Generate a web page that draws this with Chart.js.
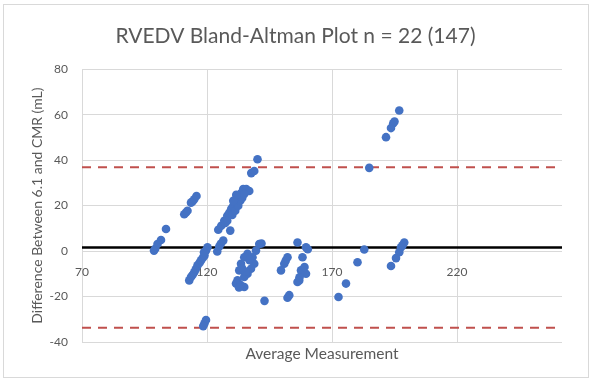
<!DOCTYPE html>
<html>
<head>
<meta charset="utf-8">
<script src="https://cdn.jsdelivr.net/npm/chart.js@4/dist/chart.umd.min.js"></script>
<style>
  html, body { margin: 0; padding: 0; background: #fff; }
  #wrap { width: 592px; height: 381px; position: relative; }
</style>
</head>
<body>
<div id="wrap"><canvas id="c" width="592" height="381"></canvas></div>
<script>
const chartTitle = "RVEDV Bland-Altman Plot n = 22 (147)";
const xTitle = "Average Measurement";
const yTitle = "Difference Between 6.1 and CMR (mL)";

const xTicks = [70, 120, 170, 220];
const yTicks = [-40, -20, 0, 20, 40, 60, 80];

const avgMeasurement = [
  99.3, 100.2, 101.6, 103.6, 98.8,
  110.9, 111.6, 112.2, 113.6, 114.2, 114.9, 115.8,
  112.9, 113.6, 114.2, 114.9, 115.5, 116.2, 117.0, 117.6, 118.3, 119.0, 119.6, 120.2, 118.8,
  119.0, 119.6, 118.5,
  124.1, 124.9, 125.5, 126.5,
  124.5, 125.7, 126.9, 128.1, 128.9, 129.7, 130.5, 131.3, 132.1, 132.9, 133.7, 134.5, 135.7, 136.9,
  137.7, 138.9, 140.2, 129.3, 127.3, 128.1, 130.1, 131.3, 132.5, 133.3, 134.1, 134.9, 131.7, 130.5,
  140.9, 139.6, 138.2, 136.2, 134.9, 138.9, 133.6, 137.6, 136.2, 132.9, 134.9, 132.2, 131.6, 134.9,
  143.0, 133.5, 135.5, 137.0, 134.0, 132.8, 141.8,
  156.2, 159.6, 158.2, 152.2, 150.9, 149.6, 157.6, 159.6, 156.9, 156.2, 152.9, 152.2, 159.0, 151.5,
  157.0, 160.3,
  180.2, 175.6, 172.6, 182.9, 184.9,
  196.9, 194.5, 193.6, 191.6, 195.0, 198.9, 197.6, 196.9, 195.6, 193.6, 198.2
];
const difference = [
  1.0, 3.1, 4.9, 9.7, 0.2,
  16.2, 17.0, 17.7, 21.3, 21.8, 22.8, 24.2,
  -12.9, -11.4, -10.5, -9.3, -8.0, -6.3, -5.2, -4.1, -3.0, -2.0, 0.2, 1.7, -0.5,
  -31.8, -30.3, -33.0,
  -0.2, 2.0, 3.2, 4.6,
  9.4, 11.1, 13.3, 15.5, 16.8, 18.6, 19.9, 21.2, 22.9, 24.2, 25.5, 27.3, 27.3, 26.4,
  34.3, 35.2, 40.4, 9.0, 12.4, 13.3, 15.9, 17.7, 19.9, 22.1, 23.4, 25.1, 24.7, 22.1,
  3.1, 0.2, -2.7, -1.2, -2.7, -5.6, -5.6, -7.8, -10.0, -8.5, -11.4, -12.9, -14.3, -15.8,
  -21.9, -15.0, -9.0, -4.0, -7.5, -16.0, 3.3,
  3.8, 1.7, -2.7, -2.7, -5.6, -8.5, -8.5, -10.0, -12.9, -13.6, -19.4, -20.5, -7.0, -4.2,
  -11.5, 0.8,
  -4.9, -14.3, -20.2, 0.7, 36.6,
  61.8, 56.2, 54.1, 50.1, 57.0, 3.8, 1.7, -0.5, -3.1, -6.6, 2.5
];

const meanDiff = [1.6];
const upperLoA = [36.9];
const lowerLoA = [-33.7];
const xRange = [70, 262];
const yRange = [-40, 80];

const points = avgMeasurement.map((x, i) => ({ x: x, y: difference[i] }));
const hLine = v => xRange.map(x => ({ x: x, y: v }));

const frame = {
  id: 'frame',
  beforeDraw(chart) {
    const ctx = chart.ctx;
    ctx.save();
    ctx.fillStyle = '#fff';
    ctx.fillRect(0, 0, chart.width, chart.height);
    ctx.strokeStyle = '#d9d9d9';
    ctx.lineWidth = 1;
    ctx.strokeRect(3.5, 4.5, chart.width - 7, chart.height - 8);
    ctx.restore();
  }
};

const font = "Lato, 'Open Sans', sans-serif";
const gray = '#595959';

new Chart(document.getElementById('c'), {
  type: 'scatter',
  data: {
    datasets: [
      {
        label: 'Difference',
        data: points,
        backgroundColor: '#4472C4',
        borderColor: '#4472C4',
        pointRadius: 4.3,
        pointBorderWidth: 0,
        xAxisID: 'x',
        order: 0
      },
      {
        type: 'line',
        label: 'Mean',
        data: hLine(meanDiff[0]),
        borderColor: '#000',
        borderWidth: 2.5,
        pointRadius: 0,
        xAxisID: 'x',
        order: 1
      },
      {
        type: 'line',
        label: 'Upper LoA',
        data: hLine(upperLoA[0]),
        borderColor: '#C0504D',
        borderWidth: 2,
        borderDash: [9, 7],
        pointRadius: 0,
        xAxisID: 'x',
        order: 2
      },
      {
        type: 'line',
        label: 'Lower LoA',
        data: hLine(lowerLoA[0]),
        borderColor: '#C0504D',
        borderWidth: 2,
        borderDash: [9, 7],
        pointRadius: 0,
        xAxisID: 'x',
        order: 3
      }
    ]
  },
  options: {
    responsive: false,
    animation: false,
    layout: { autoPadding: false, padding: { left: 29, right: 30, top: 0, bottom: 18 } },
    plugins: {
      legend: { display: false },
      tooltip: { enabled: false },
      title: {
        display: true,
        text: chartTitle,
        color: gray,
        font: { family: font, size: 21, weight: 'normal' },
        padding: { top: 24, bottom: 20 }
      }
    },
    scales: {
      x: {
        type: 'linear',
        position: { y: 0 },
        min: xRange[0],
        max: xRange[1],
        afterBuildTicks: s => { s.ticks = xTicks.map(v => ({ value: v })); },
        grid: { color: '#d9d9d9', drawTicks: false, lineWidth: 1 },
        border: { display: false },
        ticks: { color: gray, font: { family: font, size: 12 }, padding: 14 }
      },
      xt: {
        type: 'linear',
        position: 'bottom',
        min: xRange[0],
        max: xRange[1],
        grid: { display: false },
        border: { display: false },
        ticks: { display: false },
        afterFit: s => { s.height = 21; },
        title: {
          display: true,
          text: xTitle,
          color: gray,
          font: { family: font, size: 15.5 },
          padding: { top: 3, bottom: 0 }
        }
      },
      y: {
        type: 'linear',
        position: 'left',
        min: yRange[0],
        max: yRange[1],
        afterBuildTicks: s => { s.ticks = yTicks.map(v => ({ value: v })); },
        afterFit: s => { s.width = 53; },
        grid: { color: '#d9d9d9', drawTicks: false, lineWidth: 1 },
        border: { display: false },
        ticks: { color: gray, font: { family: font, size: 12 }, padding: 14 },
        title: {
          display: true,
          text: yTitle,
          color: gray,
          font: { family: font, size: 14 },
          padding: { top: 0, bottom: 3 }
        }
      }
    }
  },
  plugins: [frame]
});
</script>
</body>
</html>
